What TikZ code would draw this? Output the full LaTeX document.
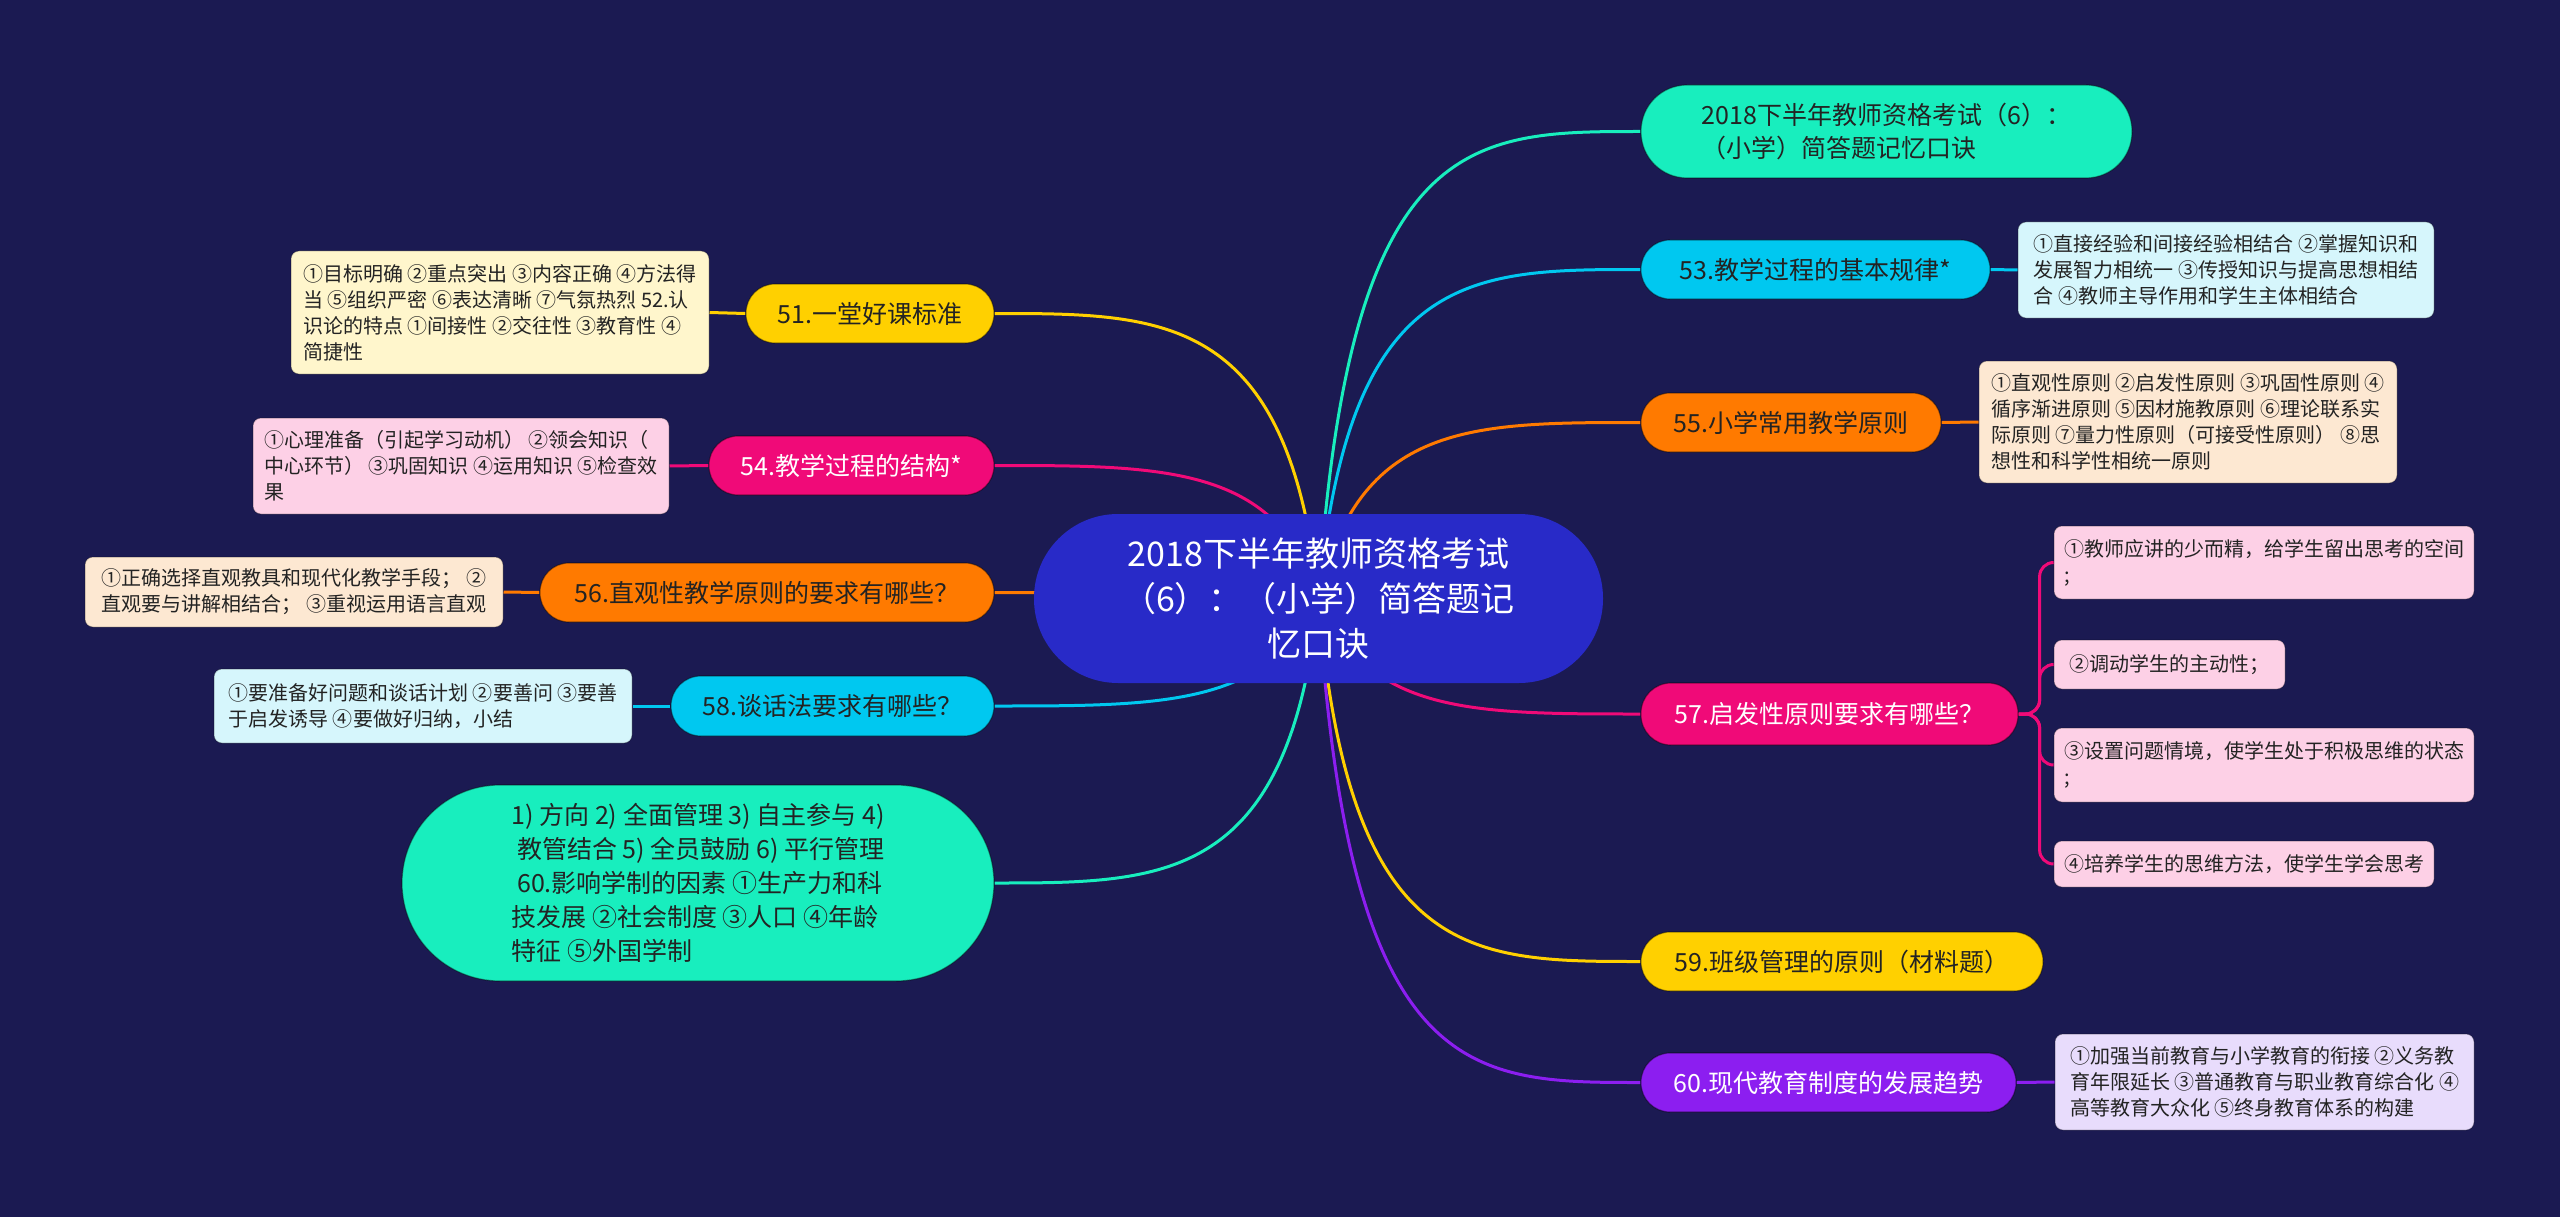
\documentclass[tikz,border=0pt]{standalone}
\usepackage{fontspec}
\setmainfont{Noto Sans CJK SC}
\usetikzlibrary{calc}
\definecolor{bg}{RGB}{27,26,82}
\definecolor{hubc}{RGB}{40,42,200}
\definecolor{mint}{RGB}{24,238,190}
\definecolor{cyanc}{RGB}{0,200,240}
\definecolor{orng}{RGB}{255,122,0}
\definecolor{pinkc}{RGB}{240,10,120}
\definecolor{yel}{RGB}{255,208,0}
\definecolor{purp}{RGB}{140,30,240}
\definecolor{cream}{RGB}{255,246,204}
\definecolor{lpink}{RGB}{253,208,230}
\definecolor{peach}{RGB}{253,232,210}
\definecolor{lcyan}{RGB}{214,246,252}
\definecolor{lav}{RGB}{232,220,252}
\definecolor{ink}{RGB}{35,35,35}
\pgfdeclarelayer{back}
\pgfdeclarelayer{edges}
\pgfsetlayers{back,edges,main}
\begin{document}
\begin{tikzpicture}[x=1pt,y=-1pt,
  base/.style={rectangle, inner sep=0pt},
  pill/.style={base, rounded corners=29, align=center, font=\fontsize{25}{33}\selectfont, draw=black, draw opacity=0.4, line width=1.2, text=ink},
  detail/.style={base, rounded corners=8, align=left, font=\fontsize{20}{26}\selectfont, text=ink, draw=black, draw opacity=0.25, line width=1},
  conn/.style={line width=3}
]
\begin{pgfonlayer}{back}
\fill[bg] (0,0) rectangle (2560,1217);
\end{pgfonlayer}
\useasboundingbox (0,0) rectangle (2560,1217);

% hub
\node[base, rounded corners=84, fill=hubc, text=white, align=center, minimum width=569, minimum height=169,
      font=\fontsize{34}{45}\selectfont] (hub) at (1318.5,598.5)
  {2018下半年教师资格考试\\（6）：（小学）简答题记\\忆口诀};

% right branches
\node[pill, rounded corners=46, fill=mint, align=left, minimum width=491, minimum height=93] (top) at (1886.5,131.5)
  {2018下半年教师资格考试（6）：\\（小学）简答题记忆口诀};
\node[pill, fill=cyanc, minimum width=349, minimum height=59] (n53) at (1815.5,269.5) {53.教学过程的基本规律*};
\node[detail, fill=lcyan, minimum width=416, minimum height=96] (d53) at (2226,270)
  {①直接经验和间接经验相结合 ②掌握知识和\\发展智力相统一 ③传授知识与提高思想相结\\合 ④教师主导作用和学生主体相结合};
\node[pill, fill=orng, minimum width=300, minimum height=59] (n55) at (1791,422.5) {55.小学常用教学原则};
\node[detail, fill=peach, minimum width=418, minimum height=122] (d55) at (2188,422)
  {①直观性原则 ②启发性原则 ③巩固性原则 ④\\循序渐进原则 ⑤因材施教原则 ⑥理论联系实\\际原则 ⑦量力性原则（可接受性原则） ⑧思\\想性和科学性相统一原则};
\node[pill, rounded corners=30, fill=pinkc, text=white, minimum width=377, minimum height=62] (n57) at (1829.5,714) {57.启发性原则要求有哪些？};
\node[detail, fill=lpink, minimum width=420, minimum height=73] (c1) at (2264,562.5)
  {①教师应讲的少而精，给学生留出思考的空间\\;};
\node[detail, fill=lpink, minimum width=231, minimum height=49] (c2) at (2169.5,664.5)
  {②调动学生的主动性；};
\node[detail, fill=lpink, minimum width=420, minimum height=74] (c3) at (2264,765)
  {③设置问题情境，使学生处于积极思维的状态\\;};
\node[detail, fill=lpink, minimum width=380, minimum height=46] (c4) at (2244,864)
  {④培养学生的思维方法，使学生学会思考};
\node[pill, fill=yel, minimum width=402, minimum height=59] (n59) at (1842,961.5) {59.班级管理的原则（材料题）};
\node[pill, fill=purp, text=white, minimum width=375, minimum height=59] (n60) at (1828.5,1082.5) {60.现代教育制度的发展趋势};
\node[detail, fill=lav, minimum width=419, minimum height=96] (d60) at (2264.5,1082)
  {①加强当前教育与小学教育的衔接 ②义务教\\育年限延长 ③普通教育与职业教育综合化 ④\\高等教育大众化 ⑤终身教育体系的构建};

% left branches
\node[pill, fill=yel, minimum width=248, minimum height=59] (n51) at (870,313.5) {51.一堂好课标准};
\node[detail, fill=cream, minimum width=418, minimum height=123] (d51) at (500,312.5)
  {①目标明确 ②重点突出 ③内容正确 ④方法得\\当 ⑤组织严密 ⑥表达清晰 ⑦气氛热烈 52.认\\识论的特点 ①间接性 ②交往性 ③教育性 ④\\简捷性};
\node[pill, fill=pinkc, text=white, minimum width=285, minimum height=59] (n54) at (851.5,465.5) {54.教学过程的结构*};
\node[detail, fill=lpink, minimum width=416, minimum height=96] (d54) at (461,466)
  {①心理准备（引起学习动机） ②领会知识（\\中心环节） ③巩固知识 ④运用知识 ⑤检查效\\果};
\node[pill, fill=orng, minimum width=454, minimum height=59] (n56) at (767,592.5) {56.直观性教学原则的要求有哪些？};
\node[detail, fill=peach, minimum width=418, minimum height=70] (d56) at (294,592)
  {①正确选择直观教具和现代化教学手段； ②\\直观要与讲解相结合； ③重视运用语言直观};
\node[pill, rounded corners=30, fill=cyanc, minimum width=323, minimum height=60] (n58) at (832.5,706) {58.谈话法要求有哪些？};
\node[detail, fill=lcyan, minimum width=418, minimum height=74] (d58) at (423,706)
  {①要准备好问题和谈话计划 ②要善问 ③要善\\于启发诱导 ④要做好归纳，小结};
\node[pill, rounded corners=98, fill=mint, align=left, minimum width=592, minimum height=196,
      font=\fontsize{25}{34}\selectfont] (big) at (698,883)
  {1) 方向 2) 全面管理 3) 自主参与 4)\\\ 教管结合 5) 全员鼓励 6) 平行管理\\\ 60.影响学制的因素 ①生产力和科\\技发展 ②社会制度 ③人口 ④年龄\\特征 ⑤外国学制};

% connectors
\begin{pgfonlayer}{edges}
% right side from hub
\draw[conn, mint]  (hub.center) .. controls ([xshift=30]hub.center |- top.west) and ([xshift=-170]top.west) .. (top.west);
\draw[conn, cyanc] (hub.center) .. controls ([xshift=30]hub.center |- n53.west) and ([xshift=-170]n53.west) .. (n53.west);
\draw[conn, orng]  (hub.center) .. controls ([xshift=40]hub.center |- n55.west) and ([xshift=-170]n55.west) .. (n55.west);
\draw[conn, pinkc] (hub.center) .. controls ([xshift=50]hub.center |- n57.west) and ([xshift=-170]n57.west) .. (n57.west);
\draw[conn, yel]   (hub.center) .. controls ([xshift=30]hub.center |- n59.west) and ([xshift=-170]n59.west) .. (n59.west);
\draw[conn, purp]  (hub.center) .. controls ([xshift=30]hub.center |- n60.west) and ([xshift=-170]n60.west) .. (n60.west);
% left side from hub
\draw[conn, yel]   (hub.center) .. controls ([xshift=-30]hub.center |- n51.east) and ([xshift=170]n51.east) .. (n51.east);
\draw[conn, pinkc] (hub.center) .. controls ([xshift=-40]hub.center |- n54.east) and ([xshift=170]n54.east) .. (n54.east);
\draw[conn, orng]  (hub.center) .. controls ([xshift=-50]hub.center |- n56.east) and ([xshift=170]n56.east) .. (n56.east);
\draw[conn, cyanc] (hub.center) .. controls ([xshift=-50]hub.center |- n58.east) and ([xshift=170]n58.east) .. (n58.east);
\draw[conn, mint]  (hub.center) .. controls ([xshift=-30]hub.center |- big.east) and ([xshift=170]big.east) .. (big.east);
% branch to detail
\draw[conn, cyanc] (n53.east) -- (d53.west);
\draw[conn, orng]  (n55.east) -- (d55.west);
\draw[conn, purp]  (n60.east) -- (d60.west);
\draw[conn, yel]   (n51.west) -- (d51.east);
\draw[conn, pinkc] (n54.west) -- (d54.east);
\draw[conn, orng]  (n56.west) -- (d56.east);
\draw[conn, cyanc] (n58.west) -- (d58.east);
% 57 children
\foreach \c in {c1,c2,c3,c4}
  \draw[conn, pinkc, rounded corners=14] (n57.east) -- ++(21,0) |- (\c.west);
\end{pgfonlayer}
\end{tikzpicture}
\end{document}
